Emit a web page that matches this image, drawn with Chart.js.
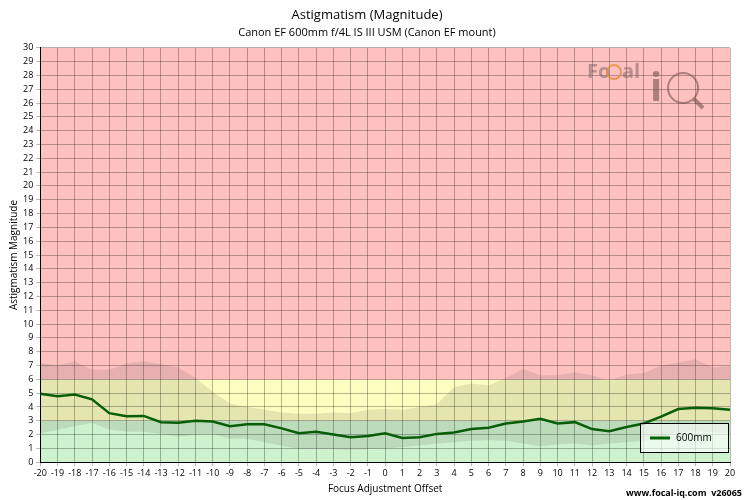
<!DOCTYPE html>
<html><head><meta charset="utf-8">
<script src="https://cdn.jsdelivr.net/npm/chart.js@4"></script>
<style>html,body{margin:0;padding:0;background:#fff}#w{width:750px;height:500px}</style>
</head><body><div id="w"><canvas id="c" width="750" height="500"></canvas></div>
<script>
const offsets=[-20,-19,-18,-17,-16,-15,-14,-13,-12,-11,-10,-9,-8,-7,-6,-5,-4,-3,-2,-1,0,1,2,3,4,5,6,7,8,9,10,11,12,13,14,15,16,17,18,19,20];
const magnitude600=[4.95,4.77,4.9,4.55,3.55,3.33,3.35,2.9,2.85,3.0,2.95,2.6,2.75,2.75,2.45,2.1,2.2,2.0,1.8,1.9,2.1,1.75,1.8,2.05,2.15,2.4,2.5,2.8,2.95,3.15,2.8,2.9,2.4,2.25,2.55,2.8,3.3,3.85,3.95,3.9,3.8];
const rangeUpper=[7.18,7.0,7.3,6.7,6.7,7.15,7.3,7.1,6.85,6.1,5.1,4.25,4.0,3.8,3.6,3.5,3.5,3.6,3.55,3.8,3.85,3.8,4.0,4.2,5.45,5.7,5.55,6.1,6.75,6.3,6.3,6.5,6.3,5.9,6.35,6.45,7.0,7.2,7.45,6.85,6.95];
const rangeLower=[2.07,2.35,2.6,2.85,2.35,2.2,2.2,2.05,1.85,2.0,2.05,1.7,1.7,1.45,1.2,0.95,0.95,0.95,0.9,0.95,1.0,1.1,1.2,1.35,1.45,1.55,1.6,1.55,1.35,1.15,1.3,1.35,1.2,1.35,1.45,1.55,1.8,2.15,2.25,2.15,2.1];
const zones=[{from:0,to:3,color:'#cdf2cd'},{from:3,to:6,color:'#fdfdc0'},{from:6,to:30,color:'#ffc0c0'}];
const pts=a=>a.map((v,i)=>({x:offsets[i],y:v}));
const F='"Open Sans", sans-serif';
const bg={id:'bg',beforeDraw(ch){const {ctx,chartArea:a,scales:{y}}=ch;ctx.save();zones.forEach(z=>{const t=y.getPixelForValue(z.to),b=y.getPixelForValue(z.from);ctx.fillStyle=z.color;ctx.fillRect(a.left,t,a.right-a.left,b-t);});ctx.restore();},
afterDraw(ch){const {ctx,chartArea:a}=ch;ctx.save();
const lx=640,ly=423,lw=88,lh=29;ctx.fillStyle='rgba(255,255,255,0.6)';ctx.fillRect(lx,ly,lw,lh);ctx.strokeStyle='#000';ctx.lineWidth=1;ctx.strokeRect(lx+0.5,ly+0.5,lw,lh);
ctx.strokeStyle='#006400';ctx.lineWidth=3;ctx.beginPath();ctx.moveTo(lx+10,ly+15);ctx.lineTo(lx+30,ly+15);ctx.stroke();
ctx.fillStyle='#000';ctx.font='10px '+F;ctx.textBaseline='middle';ctx.fillText('600mm',lx+36,ly+15);
ctx.font='bold 20px '+F;ctx.fillStyle='rgba(130,100,100,0.55)';ctx.fillText('Fo',587,72);ctx.fillText('al',622,72);
ctx.strokeStyle='rgba(230,140,60,0.8)';ctx.lineWidth=2;ctx.beginPath();ctx.arc(614,72,7,0,Math.PI*2);ctx.stroke();
ctx.font='bold 40px '+F;ctx.fillStyle='rgba(120,80,80,0.6)';ctx.fillText('i',650,90);
ctx.strokeStyle='rgba(120,80,80,0.6)';ctx.lineWidth=2;ctx.beginPath();ctx.arc(683,88,15,0,Math.PI*2);ctx.stroke();ctx.beginPath();ctx.moveTo(694,99);ctx.lineTo(703,108);ctx.lineWidth=4;ctx.stroke();
ctx.font='bold 9px '+F;ctx.fillStyle='#000';ctx.textAlign='right';ctx.fillText('www.focal-iq.com  v26065',742,493);
ctx.restore();}};
new Chart(document.getElementById('c'),{type:'line',
data:{datasets:[
{data:pts(rangeLower),borderWidth:0,pointRadius:0,fill:false,backgroundColor:'rgba(0,0,0,0)'},
{data:pts(rangeUpper),borderWidth:0,pointRadius:0,fill:'-1',backgroundColor:'rgba(60,60,60,0.12)'},
{data:pts(magnitude600),borderColor:'#006400',borderWidth:2.5,pointRadius:0,fill:false,tension:0}
]},
options:{responsive:false,animation:false,events:[],
layout:{padding:{left:4,right:20,top:0,bottom:3}},
plugins:{legend:{display:false},tooltip:{enabled:false},
title:{display:true,text:'Astigmatism (Magnitude)',font:{family:F,size:13,weight:'normal'},color:'#000',padding:{top:7,bottom:4}},
subtitle:{display:true,text:'Canon EF 600mm f/4L IS III USM (Canon EF mount)',font:{family:F,size:11},color:'#000',padding:{bottom:8}}},
scales:{
x:{type:'linear',min:-20,max:20,ticks:{stepSize:1,font:{family:F,size:9},color:'#000',maxRotation:0,autoSkip:false,padding:2},
grid:{color:'rgba(0,0,0,0.28)',tickLength:4},border:{color:'#000'},
title:{display:true,text:'Focus Adjustment Offset',font:{family:F,size:10},color:'#000',padding:{top:2,bottom:2}}},
y:{min:0,max:30,ticks:{stepSize:1,font:{family:F,size:9},color:'#000',autoSkip:false},
grid:{color:'rgba(0,0,0,0.28)',tickLength:4},border:{color:'#000'},
title:{display:true,text:'Astigmatism Magnitude',font:{family:F,size:10},color:'#000',padding:{bottom:0}}}}}
,plugins:[bg]});
</script></body></html>
